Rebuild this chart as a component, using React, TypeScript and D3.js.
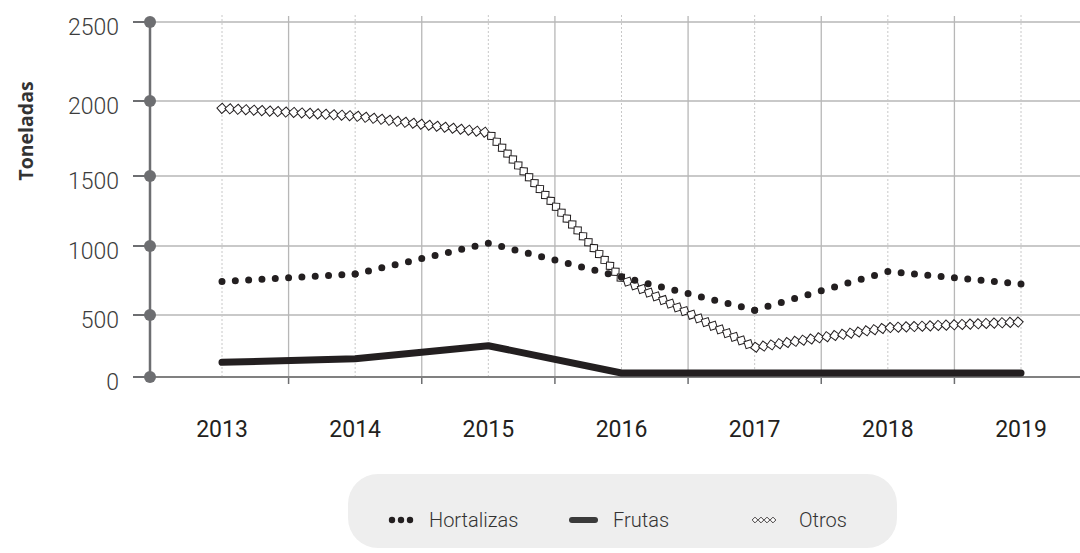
import React, { useEffect, useRef } from 'react';
import * as d3 from 'd3';

const years = ['2013', '2014', '2015', '2016', '2017', '2018', '2019'];
const hortalizas = [743, 797, 1020, 775, 535, 815, 725];
const frutas = [118, 148, 252, 32, 32, 32, 32];
const otros = [1951, 1900, 1789, 765, 239, 398, 444];

const yTicks = [0, 500, 1000, 1500, 2000, 2500];
// the source axis is not evenly spaced, so each tick gets its own pixel row
const yTickRows = [377, 315, 246, 176, 101, 22];

const W = 1080;
const H = 553;
const ink = '#231f20';
const axisGrey = '#6d6e71';
const gridGrey = '#b7b7b7';
const lightFont = 'Roboto, "Open Sans", sans-serif';

export default function App() {
  const ref = useRef<SVGSVGElement | null>(null);

  useEffect(() => {
    const svg = d3.select(ref.current);
    svg.selectAll('*').remove();

    const x = d3.scalePoint<string>().domain(years).range([222, 1021]);
    const step = x.step();
    const y = d3.scaleLinear().domain(yTicks).range(yTickRows);

    const left = 150;
    const right = 1080;
    const top = 15;
    const bottom = y(0);

    // horizontal grid
    svg.selectAll('.hgrid')
      .data(yTicks.filter(d => d > 0))
      .enter()
      .append('line')
      .attr('x1', left)
      .attr('x2', right)
      .attr('y1', d => y(d))
      .attr('y2', d => y(d))
      .attr('stroke', gridGrey)
      .attr('stroke-width', 1.3);

    // dotted vertical grid at each year
    svg.selectAll('.vdot')
      .data(years)
      .enter()
      .append('line')
      .attr('x1', d => x(d)!)
      .attr('x2', d => x(d)!)
      .attr('y1', top)
      .attr('y2', bottom)
      .attr('stroke', '#c8c8c8')
      .attr('stroke-width', 1)
      .attr('stroke-dasharray', '2 2');

    // solid vertical grid between years, with ticks below the axis
    const mids = years.slice(0, -1).map(d => x(d)! + step / 2);
    svg.selectAll('.vsolid')
      .data(mids)
      .enter()
      .append('line')
      .attr('x1', d => d)
      .attr('x2', d => d)
      .attr('y1', top + 1)
      .attr('y2', bottom)
      .attr('stroke', gridGrey)
      .attr('stroke-width', 1.3);
    svg.selectAll('.xtick')
      .data(mids)
      .enter()
      .append('line')
      .attr('x1', d => d)
      .attr('x2', d => d)
      .attr('y1', bottom)
      .attr('y2', bottom + 7)
      .attr('stroke', axisGrey)
      .attr('stroke-width', 1.5);

    // x axis
    svg.append('line')
      .attr('x1', left)
      .attr('x2', right)
      .attr('y1', bottom)
      .attr('y2', bottom)
      .attr('stroke', '#808080')
      .attr('stroke-width', 2);

    // y axis with round markers
    svg.append('line')
      .attr('x1', left)
      .attr('x2', left)
      .attr('y1', y(2500))
      .attr('y2', bottom)
      .attr('stroke', axisGrey)
      .attr('stroke-width', 2.5);
    svg.selectAll('.ytick')
      .data(yTicks)
      .enter()
      .append('line')
      .attr('x1', 133)
      .attr('x2', left)
      .attr('y1', d => y(d))
      .attr('y2', d => y(d))
      .attr('stroke', axisGrey)
      .attr('stroke-width', 2);
    svg.selectAll('.ydot')
      .data(yTicks)
      .enter()
      .append('circle')
      .attr('cx', left)
      .attr('cy', d => y(d))
      .attr('r', 6)
      .attr('fill', axisGrey);
    svg.selectAll('.ylabel')
      .data(yTicks)
      .enter()
      .append('text')
      .attr('x', 119)
      .attr('y', d => y(d) + 13)
      .attr('text-anchor', 'end')
      .attr('font-family', lightFont)
      .attr('font-weight', 300)
      .attr('font-size', 23)
      .attr('fill', '#3c3c3c')
      .text(d => d);

    svg.append('text')
      .attr('transform', 'translate(33,131) rotate(-90)')
      .attr('text-anchor', 'middle')
      .attr('font-family', '"Open Sans", sans-serif')
      .attr('font-weight', 700)
      .attr('font-size', 19.5)
      .attr('fill', '#333')
      .text('Toneladas');

    svg.selectAll('.xlabel')
      .data(years)
      .enter()
      .append('text')
      .attr('x', d => x(d)!)
      .attr('y', 437)
      .attr('text-anchor', 'middle')
      .attr('font-family', lightFont)
      .attr('font-weight', 400)
      .attr('font-size', 23)
      .attr('fill', ink)
      .text(d => d);

    const line = d3.line<number>()
      .x((_, i) => x(years[i])!)
      .y(d => y(d));

    // Frutas: thick line
    svg.append('path')
      .attr('d', line(frutas))
      .attr('fill', 'none')
      .attr('stroke', ink)
      .attr('stroke-width', 7)
      .attr('stroke-linecap', 'round')
      .attr('stroke-linejoin', 'round');

    // Otros: square markers laid along the line, turned with it
    const guide = svg.append('path')
      .attr('d', line(otros))
      .attr('fill', 'none')
      .attr('stroke', 'none');
    const node = guide.node() as SVGPathElement;
    const total = node.getTotalLength();
    const gap = 8;
    const marks: { x: number; y: number; a: number }[] = [];
    for (let s = 0; s <= total + 0.1; s += gap) {
      const p = node.getPointAtLength(Math.min(s, total));
      const q = node.getPointAtLength(Math.min(s + 0.5, total));
      const r = node.getPointAtLength(Math.max(s - 0.5, 0));
      const a = (Math.atan2(q.y - r.y, q.x - r.x) * 180) / Math.PI;
      marks.push({ x: p.x, y: p.y, a });
    }
    const half = 3.6;
    svg.selectAll('.otro')
      .data(marks)
      .enter()
      .append('rect')
      .attr('x', -half)
      .attr('y', -half)
      .attr('width', half * 2)
      .attr('height', half * 2)
      .attr('transform', d => `translate(${d.x},${d.y}) rotate(${d.a + 45})`)
      .attr('fill', '#fff')
      .attr('stroke', ink)
      .attr('stroke-width', 1);

    // Hortalizas: round dots, each segment spaced so a dot lands on every year
    const segs = d3.pairs(hortalizas.map((v, i) => [x(years[i])!, y(v)] as [number, number]));
    svg.selectAll('.hseg')
      .data(segs)
      .enter()
      .append('path')
      .attr('d', d => d3.line()(d))
      .attr('fill', 'none')
      .attr('stroke', ink)
      .attr('stroke-width', 7)
      .attr('stroke-linecap', 'round')
      .attr('stroke-dasharray', d => {
        const len = Math.hypot(d[1][0] - d[0][0], d[1][1] - d[0][1]);
        const n = Math.max(1, Math.round(len / 14));
        return `0 ${len / n}`;
      });

    // legend
    const lg = svg.append('g');
    lg.append('rect')
      .attr('x', 348)
      .attr('y', 474)
      .attr('width', 549)
      .attr('height', 74)
      .attr('rx', 30)
      .attr('fill', '#eeeeee');
    lg.selectAll('.ldot')
      .data([0, 1, 2])
      .enter()
      .append('circle')
      .attr('cx', d => 392 + d * 9)
      .attr('cy', 520)
      .attr('r', 3.2)
      .attr('fill', ink);
    lg.append('line')
      .attr('x1', 572)
      .attr('x2', 595)
      .attr('y1', 520)
      .attr('y2', 520)
      .attr('stroke', '#3a3a3a')
      .attr('stroke-width', 6)
      .attr('stroke-linecap', 'round');
    lg.selectAll('.ldia')
      .data([0, 1, 2, 3])
      .enter()
      .append('rect')
      .attr('x', -2)
      .attr('y', -2)
      .attr('width', 4)
      .attr('height', 4)
      .attr('transform', d => `translate(${755 + d * 6},520) rotate(45)`)
      .attr('fill', '#fff')
      .attr('stroke', ink)
      .attr('stroke-width', 0.8);
    const names = [
      { t: 'Hortalizas', x: 429 },
      { t: 'Frutas', x: 613 },
      { t: 'Otros', x: 799 },
    ];
    lg.selectAll('.lname')
      .data(names)
      .enter()
      .append('text')
      .attr('x', d => d.x)
      .attr('y', 527)
      .attr('font-family', lightFont)
      .attr('font-weight', 300)
      .attr('font-size', 20)
      .attr('fill', '#333')
      .text(d => d.t);
  }, []);

  return (
    <svg
      ref={ref}
      width={W}
      height={H}
      viewBox={`0 0 ${W} ${H}`}
      style={{ position: 'absolute', left: 0, top: 0, background: '#fff' }}
    />
  );
}
